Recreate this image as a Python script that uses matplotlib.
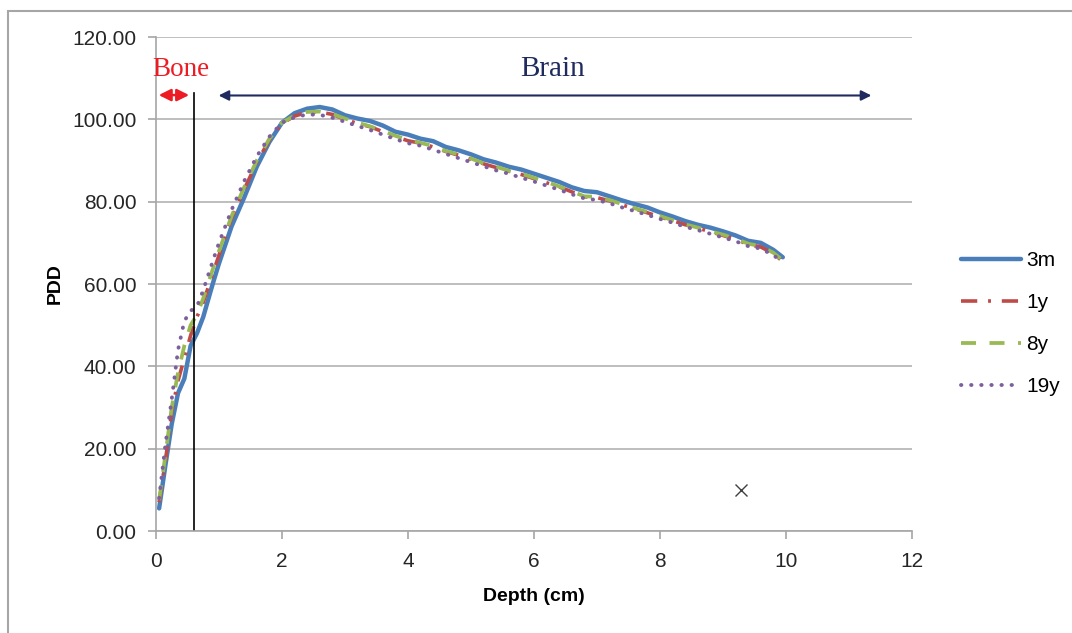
# PDD vs depth, four ages (3m, 1y, 8y, 19y), bone / brain regions

import matplotlib.pyplot as plt
from matplotlib.patches import Rectangle

depth = [0.05, 0.15, 0.25, 0.35, 0.45, 0.55, 0.65, 0.75, 0.9, 1.0, 1.2, 1.4, 1.6, 1.8, 2.0,
         2.2, 2.4, 2.6, 2.8, 3.0, 3.2, 3.4, 3.6, 3.8, 4.0, 4.2, 4.4, 4.6, 4.8, 5.0,
         5.2, 5.4, 5.6, 5.8, 6.0, 6.2, 6.4, 6.6, 6.8, 7.0, 7.2, 7.4, 7.6, 7.8, 8.0,
         8.2, 8.4, 8.6, 8.8, 9.0, 9.2, 9.4, 9.6, 9.8, 9.95]

pdd_3m = [5.5, 16, 26, 33.5, 37, 45, 48, 52, 60, 65, 74, 81, 88.5, 94.5, 99.2,
          101.5, 102.6, 103, 102.4, 101, 100.2, 99.6, 98.5, 97, 96.3, 95.3, 94.7, 93.3, 92.5, 91.5,
          90.3, 89.5, 88.5, 87.8, 86.8, 85.8, 84.8, 83.5, 82.6, 82.3, 81.3, 80.3, 79.4, 78.6, 77.4,
          76.4, 75.3, 74.4, 73.7, 72.8, 71.8, 70.5, 70.0, 68.3, 66.5]

pdd_1y = [7, 17, 29, 36.5, 42, 47.5, 52, 55.5, 62.5, 67, 76, 83, 89.5, 95, 99,
          100.8, 101.7, 101.8, 101.2, 100, 99, 98.2, 97, 95.8, 94.8, 94.2, 93.3, 92.2, 91.3, 90.3,
          89.2, 88.3, 87.4, 86.6, 85.6, 84.6, 83.6, 82.4, 81.2, 81, 80.2, 79.2, 78.3, 77.3, 76.3,
          75.4, 74.4, 73.6, 72.7, 71.8, 70.9, 69.6, 69, 67.4, 65.5]

pdd_8y = [7.5, 18.5, 30, 38.5, 45, 50, 52.5, 56.5, 63.5, 68, 76.5, 83.5, 90, 95.3, 99.2,
          100.9, 101.8, 101.9, 101.3, 100.2, 99.2, 98.3, 97.2, 96, 95, 94.3, 93.5, 92.3, 91.5, 90.5,
          89.3, 88.5, 87.5, 86.8, 85.8, 84.8, 83.7, 82.5, 81.3, 81.2, 80.4, 79.4, 78.4, 77.5, 76.5,
          75.5, 74.5, 73.7, 72.8, 72, 71, 69.8, 69.2, 67.6, 65.7]

pdd_19y = [8, 21, 32, 44, 51, 53.5, 54.5, 58.5, 65.5, 70, 78, 85, 91, 95.8, 99.2,
           100.5, 101.2, 101.1, 100.4, 99.4, 98.4, 97.4, 96.3, 95.2, 94.2, 93.6, 92.6, 91.6, 90.6, 89.6,
           88.6, 87.6, 86.8, 85.8, 84.9, 83.9, 82.9, 81.8, 80.8, 80.4, 79.6, 78.6, 77.7, 76.8, 75.8,
           74.9, 73.9, 73.1, 72.2, 71.3, 70.4, 69.2, 68.6, 67.0, 65.3]

bone_edge = 0.6
stray_x, stray_y = 9.29, 10

plt.rcParams['font.family'] = ['Liberation Sans', 'DejaVu Sans']

fig = plt.figure(figsize=(10.72, 6.33), dpi=100)
ax = fig.add_axes([0.1455, 0.1611, 0.7052, 0.7804])

# outer frame of the original chart object
fig.patches.append(Rectangle((0.0075, -0.1), 1.2, 1.0826, transform=fig.transFigure,
                             fill=False, edgecolor='#a6a6a6', linewidth=1.5))

ax.plot(depth, pdd_3m, color='#4a7ebb', lw=3.2, label='3m', solid_capstyle='round')
ax.plot(depth, pdd_1y, color='#be4b48', lw=2.6, linestyle=(0, (4.5, 3, 0.8, 3)), label='1y')
ax.plot(depth, pdd_8y, color='#98b954', lw=2.7, linestyle=(0, (4, 3.6)), label='8y')
ax.plot(depth, pdd_19y, color='#7d5fa0', lw=2.8, linestyle=(0, (0.1, 2.5)),
        dash_capstyle='round', label='19y')

# bone / brain markers
ax.plot([bone_edge, bone_edge], [0, 106.5], color='black', lw=1.2)
ax.annotate('', xy=(0.0, 105.9), xytext=(0.57, 105.9),
            arrowprops=dict(arrowstyle='<|-|>', color='#ed1c24', lw=1.8, mutation_scale=18))
ax.annotate('', xy=(0.95, 105.8), xytext=(11.4, 105.8),
            arrowprops=dict(arrowstyle='<|-|>', color='#1f2a5e', lw=1.5, mutation_scale=15))
ax.text(0.4, 112, 'Bone', color='#ed1c24', fontsize=19.5, ha='center', va='center',
        family=['Liberation Serif', 'DejaVu Serif'])
ax.text(6.3, 112.2, 'Brain', color='#1f2a5e', fontsize=21, ha='center', va='center',
        family=['Liberation Serif', 'DejaVu Serif'])
ax.plot([stray_x], [stray_y], marker='x', color='#404040', ms=8, mew=1)

ax.set_xlim(0, 12)
ax.set_ylim(0, 120)
ax.set_xticks(range(0, 13, 2))
ax.set_yticks(range(0, 121, 20))
ax.set_yticklabels(['%.2f' % v for v in range(0, 121, 20)])
ax.grid(axis='y', color='#b3b3b3', lw=1.2)
ax.set_axisbelow(True)
for s in ['top', 'right']:
    ax.spines[s].set_visible(False)
for s in ['left', 'bottom']:
    ax.spines[s].set_color('#a6a6a6')
    ax.spines[s].set_linewidth(1.2)
ax.tick_params(axis='both', colors='#a6a6a6', length=6, width=1.2, labelsize=15,
               labelcolor='#262626')
ax.tick_params(axis='y', pad=8)
ax.tick_params(axis='x', pad=9)

ax.set_xlabel('Depth (cm)', fontsize=14, fontweight='bold', labelpad=12)
ax.set_ylabel('PDD', fontsize=14, fontweight='bold', labelpad=6)

ax.legend(loc='center left', bbox_to_anchor=(1.04, 0.42), frameon=False, fontsize=15,
          handlelength=2.9, labelspacing=1.1, handletextpad=0.25)

plt.savefig('out.png', dpi=100)
